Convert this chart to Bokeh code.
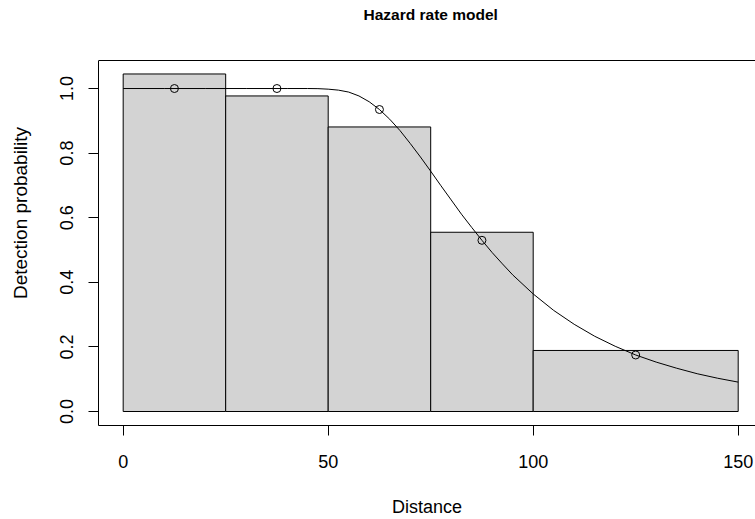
import math
from bokeh.plotting import figure
from bokeh.models import Range1d, FixedTicker, Span, Label
from bokeh.embed import file_html
from bokeh.resources import INLINE

# ---- data ----
bin_left = [0, 25, 50, 75, 100]
bin_right = [25, 50, 75, 100, 150]
bin_height = [1.045, 0.977, 0.881, 0.555, 0.189]

point_x = [12.5, 37.5, 62.5, 87.5, 125]
point_y = [1.0, 1.0, 0.935, 0.53, 0.175]

curve_x = [0, 10, 20, 30, 40, 45, 47.5, 50, 52.5, 55, 57.5, 60, 62.5, 65, 67.5,
           70, 72.5, 75, 77.5, 80, 82.5, 85, 87.5, 90, 92.5, 95, 100, 105, 110,
           115, 120, 125, 130, 135, 140, 145, 150]
curve_y = [1.0, 1.0, 1.0, 1.0, 1.0, 1.0, 0.9996, 0.998, 0.995, 0.989, 0.977,
           0.959, 0.935, 0.905, 0.870, 0.830, 0.788, 0.744, 0.699, 0.655,
           0.611, 0.570, 0.530, 0.492, 0.457, 0.423, 0.364, 0.313, 0.270,
           0.233, 0.202, 0.175, 0.153, 0.134, 0.117, 0.103, 0.091]

x_ticks = [0, 50, 100, 150]
y_ticks = [0.0, 0.2, 0.4, 0.6, 0.8, 1.0]
y_tick_labels = {0.0: "0.0", 0.2: "0.2", 0.4: "0.4", 0.6: "0.6", 0.8: "0.8", 1.0: "1.0"}

title_text = "Hazard rate model"

FONT = "Liberation Sans"
FS = "18px"

# plot-region limits (R style, 4% padding)
Y_LO, Y_HI = -0.0433, 1.0867
# frame extends to the top of the canvas so the title can live inside it
Y_TOP = 1.2725

p = figure(width=755, height=519, output_backend="svg", toolbar_location=None,
           x_range=Range1d(-6.02, 154.22), y_range=Range1d(Y_LO, Y_TOP),
           min_border_left=98, min_border_right=0, min_border_top=0,
           min_border_bottom=94, title=None)
p.outline_line_color = None
p.background_fill_color = "white"
p.border_fill_color = "white"
p.grid.visible = False

# histogram bars
p.quad(left=bin_left, right=bin_right, bottom=0, top=bin_height,
       fill_color="#D3D3D3", line_color="black", line_width=1)
# fitted curve
p.line(curve_x, curve_y, line_color="black", line_width=1)
# points
p.scatter(point_x, point_y, marker="circle", size=8, fill_color=None,
          line_color="black", line_width=1)

# top edge of the box
p.add_layout(Span(location=Y_HI, dimension="width", line_color="black", line_width=1))

# axes
xa = p.xaxis[0]
xa.ticker = FixedTicker(ticks=x_ticks)
xa.minor_tick_line_color = None
xa.major_tick_in = 0
xa.major_tick_out = 10
xa.major_tick_line_color = "black"
xa.axis_line_color = "black"
xa.major_label_text_font = FONT
xa.major_label_text_font_size = FS
xa.major_label_text_color = "black"
xa.major_label_standoff = 19
xa.axis_label = "Distance"
xa.axis_label_text_font = FONT
xa.axis_label_text_font_size = FS
xa.axis_label_text_font_style = "normal"
xa.axis_label_text_color = "black"
xa.axis_label_standoff = 26

ya = p.yaxis[0]
ya.bounds = (Y_LO, Y_HI)
ya.ticker = FixedTicker(ticks=y_ticks)
ya.major_label_overrides = y_tick_labels
ya.minor_tick_line_color = None
ya.major_tick_in = 0
ya.major_tick_out = 10
ya.major_tick_line_color = "black"
ya.axis_line_color = "black"
ya.major_label_orientation = "parallel"
ya.major_label_text_font = FONT
ya.major_label_text_font_size = FS
ya.major_label_text_color = "black"
ya.major_label_standoff = 15
ya.axis_label = "Detection probability"
ya.axis_label_text_font = FONT
ya.axis_label_text_font_size = "19px"
ya.axis_label_text_font_style = "normal"
ya.axis_label_text_color = "black"
ya.axis_label_standoff = 27

# title, centred over the plot region (R style)
title = Label(x=75, y=1.2291, text=title_text, text_align="center",
              text_baseline="middle", text_font=FONT, text_font_size="15.5px",
              text_font_style="bold", text_color="black")
p.add_layout(title)

open("out.html", "w").write(file_html(p, INLINE))
